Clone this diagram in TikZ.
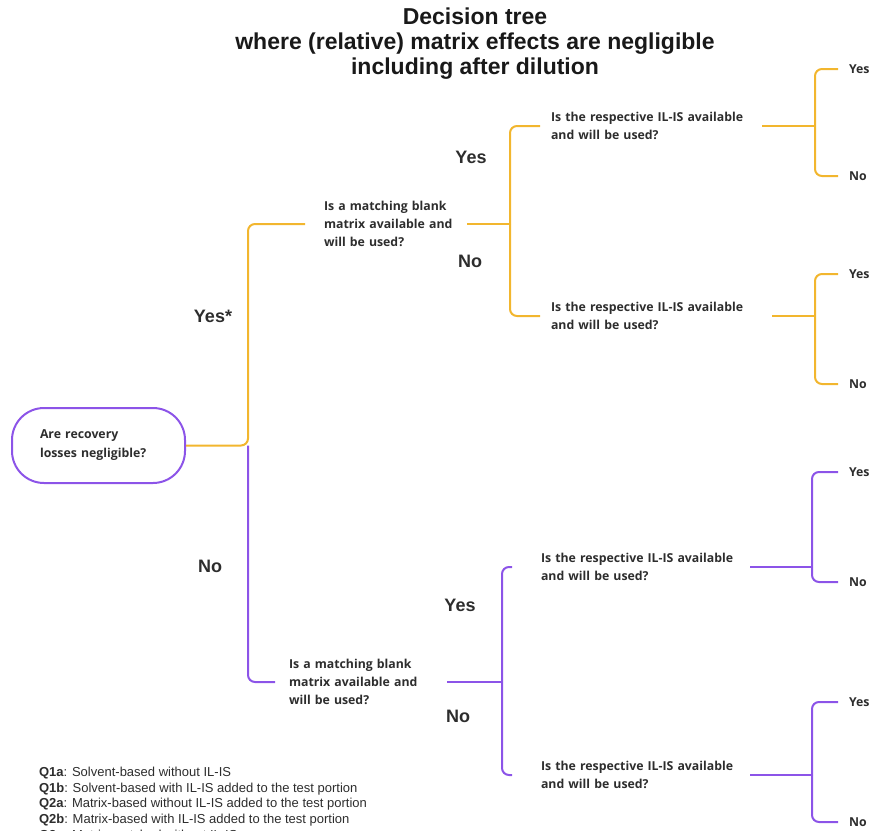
\documentclass[tikz,border=0pt]{standalone}
\usepackage{fontspec}
\setmainfont{Liberation Sans}
\newfontfamily\qfont{Open Sans}
\newfontfamily\titlefont{Liberation Sans}
\definecolor{treeorange}{RGB}{242,182,46}
\definecolor{treepurple}{RGB}{140,84,232}
\definecolor{textgray}{RGB}{45,45,45}

\begin{document}
\begin{tikzpicture}[x=1pt, y=-1pt, line width=2pt,
    question/.style={anchor=west, align=left, inner sep=0pt, text=textgray,
        font=\qfont\bfseries\fontsize{12.3}{18}\selectfont},
    answer/.style={text=textgray, font=\bfseries\fontsize{18}{20}\selectfont},
    leaf/.style={anchor=west, inner sep=0pt, text=textgray,
        font=\qfont\bfseries\fontsize{12.3}{14}\selectfont},
    branch/.style={rounded corners=7pt}]

    \useasboundingbox (0,0) rectangle (872,830);

    % Title
    \node[align=center, text=black!90, font=\titlefont\bfseries\fontsize{23}{25}\selectfont] (title) at (475,43.5)
        {Decision tree\\where (relative) matrix effects are negligible\\including after dilution};

    % Root question
    \node[draw=treepurple, rounded corners=32pt, minimum width=173pt, minimum height=75pt,
        text width=117pt, inner xsep=28pt, align=left, text=textgray,
        font=\qfont\bfseries\fontsize{12.3}{19}\selectfont] (root) at (98.5,445.5)
        {Are recovery\\losses negligible?};

    % Second level
    \node[question, text width=142pt] (q1) at (323,224) {Is a matching blank\\matrix available and\\will be used?};
    \node[question, text width=157pt] (q2) at (288,682) {Is a matching blank\\matrix available and\\will be used?};

    % Third level
    \node[question, text width=210pt] (q1a) at (550,126) {Is the respective IL-IS available\\and will be used?};
    \node[question, text width=220pt] (q1b) at (550,316) {Is the respective IL-IS available\\and will be used?};
    \node[question, text width=208pt] (q2a) at (540,567) {Is the respective IL-IS available\\and will be used?};
    \node[question, text width=208pt] (q2b) at (540,775) {Is the respective IL-IS available\\and will be used?};

    % Leaves
    \node[leaf] (y1) at (848,69) {Yes};
    \node[leaf] (n1) at (848,176) {No};
    \node[leaf] (y2) at (848,274) {Yes};
    \node[leaf] (n2) at (848,384) {No};
    \node[leaf] (y3) at (848,472) {Yes};
    \node[leaf] (n3) at (848,582) {No};
    \node[leaf] (y4) at (848,702) {Yes};
    \node[leaf] (n4) at (848,822) {No};

    % Branch labels
    \node[answer] (ys) at (213,316) {Yes*};
    \node[answer] (nr) at (210,566) {No};
    \node[answer] (yq1) at (471,157) {Yes};
    \node[answer] (nq1) at (470,261) {No};
    \node[answer] (yq2) at (460,605) {Yes};
    \node[answer] (nq2) at (458,716) {No};

    % Orange branch
    \draw[treeorange, branch, shorten >=18pt] (root.east) -- ++(62,0) coordinate (s0) |- (q1.west);
    \draw[treeorange] (q1.east) -- ++(43,0) coordinate (b1);
    \draw[treeorange, branch, shorten >=10pt] (b1) |- (q1a.west);
    \draw[treeorange, branch, shorten >=10pt] (b1) |- (q1b.west);
    \draw[treeorange] (q1a.east) -- ++(53,0) coordinate (b2);
    \draw[treeorange, branch, shorten >=10pt] (b2) |- (y1.west);
    \draw[treeorange, branch, shorten >=10pt] (b2) |- (n1.west);
    \draw[treeorange] (q1b.east) -- ++(43,0) coordinate (b3);
    \draw[treeorange, branch, shorten >=10pt] (b3) |- (y2.west);
    \draw[treeorange, branch, shorten >=10pt] (b3) |- (n2.west);

    % Purple branch
    \draw[treepurple, branch, shorten >=13pt] (s0) |- (q2.west);
    \draw[treepurple] (q2.east) -- ++(55,0) coordinate (b4);
    \draw[treepurple, branch, shorten >=28pt] (b4) |- (q2a.west);
    \draw[treepurple, branch, shorten >=28pt] (b4) |- (q2b.west);
    \draw[treepurple] (q2a.east) -- ++(62,0) coordinate (b5);
    \draw[treepurple, branch, shorten >=10pt] (b5) |- (y3.west);
    \draw[treepurple, branch, shorten >=10pt] (b5) |- (n3.west);
    \draw[treepurple] (q2b.east) -- ++(62,0) coordinate (b6);
    \draw[treepurple, branch, shorten >=10pt] (b6) |- (y4.west);
    \draw[treepurple, branch, shorten >=10pt] (b6) |- (n4.west);

    % Legend
    \node[anchor=north west, align=left, inner sep=0pt, text=textgray,
        font=\fontsize{13}{15.7}\selectfont] (legend) at (38,766)
        {\textbf{Q1a}: Solvent-based without IL-IS\\
         \textbf{Q1b}: Solvent-based with IL-IS added to the test portion\\
         \textbf{Q2a}: Matrix-based without IL-IS added to the test portion\\
         \textbf{Q2b}: Matrix-based with IL-IS added to the test portion\\
         \textbf{Q3a}: Matrix-matched without IL-IS};

\end{tikzpicture}
\end{document}
